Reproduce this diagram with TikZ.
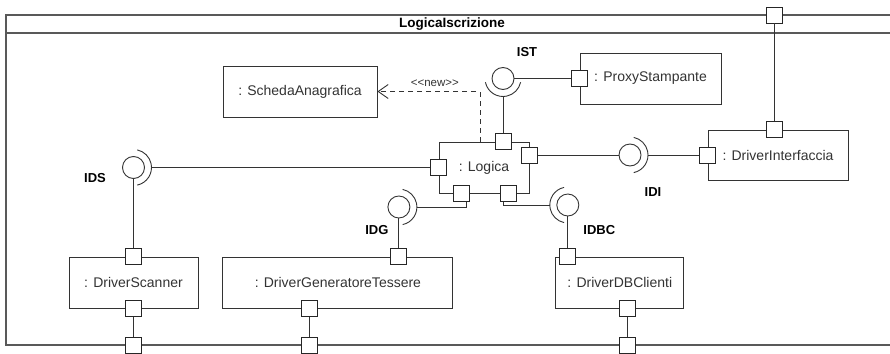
\documentclass[tikz,border=0pt]{standalone}
\usepackage{fontspec}
\setmainfont{Liberation Sans}
\usetikzlibrary{positioning}
\usetikzlibrary{arrows.meta}

\tikzset{
  comp/.style={rectangle, draw=black!80, line width=0.9pt, minimum height=51pt,
    inner sep=0pt, text=black!80, font=\fontsize{14}{16}\selectfont},
  port/.style={rectangle, draw=black!85, fill=white, line width=0.9pt,
    minimum size=16pt, inner sep=0pt},
  ball/.style={circle, draw=black!80, line width=0.9pt, minimum size=22pt, inner sep=0pt},
  socket/.style={draw=black!80, line width=0.9pt},
  wire/.style={draw=black!80, line width=0.9pt},
  ifname/.style={font=\fontsize{13}{15}\selectfont\bfseries, inner sep=0pt},
  dep/.style={wire, dash pattern=on 5pt off 4pt, -{Straight Barb[length=10pt, width=14pt]}},
  frameline/.style={draw=black!65, line width=1.4pt},
}

% socket arc round a ball: #1 ball, #2 direction, #3 name of its outer point
\newcommand{\drawsocket}[3]{%
  \draw[socket] ([shift={(#2-78:18pt)}]#1.center) arc[start angle=#2-78, end angle=#2+78, radius=18pt];
  \coordinate (#3) at ([shift={(#2:18pt)}]#1.center);}

\begin{document}
\begin{tikzpicture}[x=1pt, y=1pt]
\useasboundingbox (0,0) rectangle (890,-353);

% frame
\draw[frameline] (890,-15) -| (6,-345) -- (890,-345);
\draw[frameline] (6,-33) -- (890,-33);
\node[font=\fontsize{13.5}{15}\selectfont\bfseries] (title) at (452,-24) {LogicaIscrizione};

% components
\node[comp, minimum width=154pt] (scheda) at (300,-91.5) {: SchedaAnagrafica};
\node[comp, minimum width=141pt] (proxy) at (650.5,-78.5) {: ProxyStampante};
\node[comp, minimum width=90pt] (logica) at (484,-167.5) {: Logica};
\node[comp, minimum width=140pt, minimum height=50pt] (interf) at (778,-155) {: DriverInterfaccia};
\node[comp, minimum width=129pt] (scanner) at (133.5,-282.5) {: DriverScanner};
\node[comp, minimum width=230pt, right=24pt of scanner] (gen) {: DriverGeneratoreTessere};
\node[comp, minimum width=128pt, right=102pt of gen] (dbc) {: DriverDBClienti};

% ports
\node[port] (lg-t) at ([xshift=19pt]logica.north) {};
\node[port] (lg-r) at ([yshift=12.5pt]logica.east) {};
\node[port] (lg-l) at (logica.west) {};
\node[port] (lg-bl) at ([xshift=-23pt]logica.south) {};
\node[port] (lg-br) at ([xshift=24pt]logica.south) {};
\node[port] (px-l) at (proxy.west) {};
\node[port] (if-l) at (interf.west) {};
\node[port] (if-t) at ([xshift=-4pt]interf.north) {};
\node[port] (sc-t) at (scanner.north) {};
\node[port] (sc-b) at (scanner.south) {};
\node[port] (gen-t) at ([xshift=61pt]gen.north) {};
\node[port] (gen-b) at ([xshift=-28pt]gen.south) {};
\node[port] (dbc-t) at ([xshift=-52pt]dbc.north) {};
\node[port] (dbc-b) at ([xshift=8pt]dbc.south) {};

% ports on the frame
\node[port] (fr-t) at (if-t |- 0,-15) {};
\node[port] (fr-b1) at (sc-b |- 0,-345) {};
\node[port] (fr-b2) at (gen-b |- 0,-345) {};
\node[port] (fr-b3) at (dbc-b |- 0,-345) {};
\draw[wire] (fr-t) -- (if-t);
\draw[wire] (sc-b) -- (fr-b1);
\draw[wire] (gen-b) -- (fr-b2);
\draw[wire] (dbc-b) -- (fr-b3);

% IST
\node[ball] (ist) at (lg-t |- px-l) {};
\drawsocket{ist}{270}{ist-s}
\node[ifname] (ist-lbl) at ([shift={(24pt,26.5pt)}]ist.center) {IST};
\draw[wire] (ist) -- (px-l);
\draw[wire] (ist-s) -- (lg-t);

% IDS
\node[ball] (ids) at (sc-t |- lg-l) {};
\drawsocket{ids}{0}{ids-s}
\node[ifname] (ids-lbl) at ([shift={(-38.5pt,-10.5pt)}]ids.center) {IDS};
\draw[wire] (ids) -- (sc-t);
\draw[wire] (ids-s) -- (lg-l);

% IDG
\node[ball] (idg) at (gen-t |- 0,-207) {};
\drawsocket{idg}{0}{idg-s}
\node[ifname] (idg-lbl) at ([shift={(-22pt,-23pt)}]idg.center) {IDG};
\draw[wire] (idg) -- (gen-t);
\draw[wire] (idg-s) -| ([xshift=5pt]lg-bl.south);

% IDBC
\node[ball] (idbc) at (dbc-t |- 0,-205) {};
\drawsocket{idbc}{180}{idbc-s}
\node[ifname] (idbc-lbl) at ([shift={(31.5pt,-25pt)}]idbc.center) {IDBC};
\draw[wire] (idbc) -- (dbc-t);
\draw[wire] (idbc-s) -| ([xshift=-5pt]lg-br.south);

% IDI
\node[ball] (idi) at (630,-155) {};
\drawsocket{idi}{0}{idi-s}
\node[ifname] (idi-lbl) at ([shift={(23pt,-37pt)}]idi.center) {IDI};
\draw[wire] (lg-r) -- (idi);
\draw[wire] (idi-s) -- (if-l);

% new
\draw[dep] ([xshift=-4pt]logica.north) |- (scheda.east)
  node[pos=0.72, above=1pt, text=black!80, font=\fontsize{11.5}{13}\selectfont] (new-lbl) {<\kern0pt<new>\kern0pt>};
\end{tikzpicture}
\end{document}
